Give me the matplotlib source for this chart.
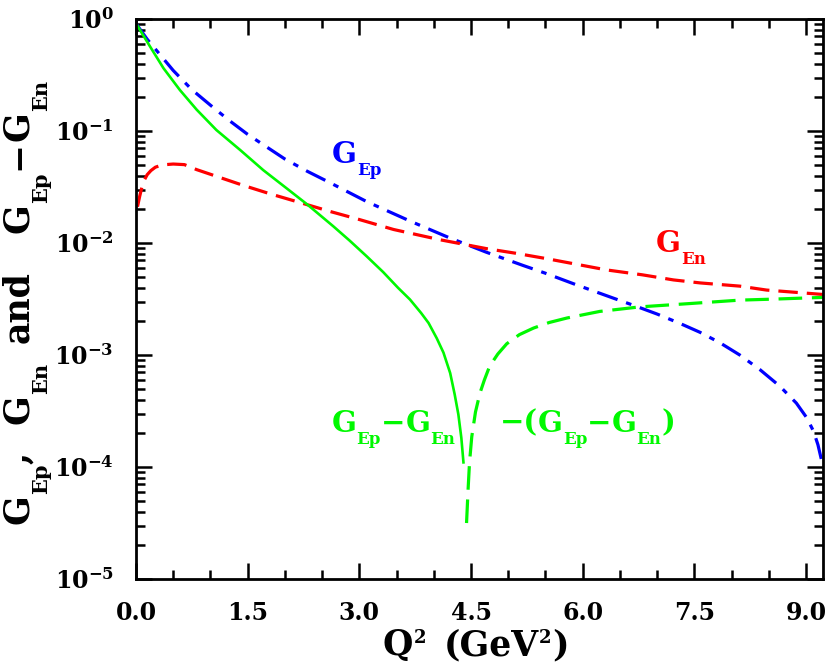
import matplotlib
matplotlib.use('Agg')
import matplotlib.pyplot as plt
from matplotlib.ticker import MultipleLocator, LogLocator, FuncFormatter, NullFormatter, FormatStrFormatter
import numpy as np

W, H, DPI = 825, 671, 100

# ---------------- data ----------------
q2_gep = [0.01, 0.15, 0.30, 0.50, 0.75, 1.00, 1.25, 1.50, 1.75, 2.00, 2.30, 2.60, 3.10,
          3.70, 4.20, 4.70, 5.20, 5.50, 5.90, 6.40, 6.72, 7.00, 7.31, 7.58, 7.84, 8.11,
          8.38, 8.65, 8.87, 9.01, 9.10, 9.16, 9.23]
gep = [0.89, 0.66, 0.501, 0.347, 0.234, 0.170, 0.1245, 0.0933, 0.0724, 0.0562, 0.0437,
       0.0347, 0.0234, 0.0155, 0.0112, 0.0083, 0.0063, 0.00537, 0.00427, 0.00324,
       0.00272, 0.00232, 0.00191, 0.00159, 0.00129, 0.00100, 0.000741, 0.000525,
       0.000372, 0.000275, 0.000209, 0.000158, 0.000100]

q2_gen = [0.02, 0.05, 0.08, 0.11, 0.15, 0.20, 0.26, 0.35, 0.50, 0.65, 0.815, 1.08, 1.44,
          1.80, 2.18, 2.61, 3.00, 3.46, 4.08, 4.71, 5.10, 5.52, 6.32, 6.80, 7.22, 7.58,
          8.11, 8.47, 9.23]
gen = [0.0211, 0.0262, 0.0316, 0.0363, 0.0407, 0.0443, 0.0475, 0.0498, 0.0507, 0.0501,
       0.0452, 0.0394, 0.0327, 0.0275, 0.0232, 0.0191, 0.0162, 0.0132, 0.0107, 0.0089,
       0.0081, 0.00724, 0.00575, 0.0052, 0.00468, 0.0044, 0.00412, 0.0038, 0.00347]

q2_diff_pos = [0.01, 0.19, 0.37, 0.59, 0.815, 1.08, 1.40, 1.71, 2.02, 2.30, 2.65, 2.87,
               3.10, 3.32, 3.52, 3.68, 3.83, 3.93, 4.04, 4.13, 4.22, 4.28, 4.33, 4.37,
               4.40]
diff_pos = [0.89, 0.566, 0.363, 0.232, 0.155, 0.102, 0.0676, 0.0447, 0.0309, 0.0221,
            0.0141, 0.0105, 0.00759, 0.0055, 0.00398, 0.00313, 0.00237, 0.00193, 0.00141,
            0.00105, 0.00069, 0.000447, 0.000295, 0.000182, 0.000107]

q2_diff_neg = [4.44, 4.46, 4.48, 4.51, 4.56, 4.62, 4.68, 4.75, 4.86, 4.98, 5.15, 5.34,
               5.55, 5.79, 6.23, 6.77, 7.44, 8.11, 8.60, 9.23]
diff_neg = [3.16e-5, 6.17e-5, 1.1e-4, 1.86e-4, 3.1e-4, 4.57e-4, 6.0e-4, 7.94e-4,
            1.02e-3, 1.26e-3, 1.52e-3, 1.74e-3, 1.95e-3, 2.14e-3, 2.45e-3, 2.69e-3,
            2.88e-3, 3.09e-3, 3.16e-3, 3.27e-3]

x_major = [0.0, 1.5, 3.0, 4.5, 6.0, 7.5, 9.0]

# ---------------- style ----------------
FONT = 'DejaVu Serif'
plt.rcParams['font.family'] = FONT
plt.rcParams['font.weight'] = 'bold'
plt.rcParams['mathtext.fontset'] = 'custom'
plt.rcParams['mathtext.rm'] = FONT + ':bold'
plt.rcParams['mathtext.it'] = FONT + ':bold'
plt.rcParams['mathtext.bf'] = FONT + ':bold'
plt.rcParams['lines.scale_dashes'] = False

BLUE = '#0000ff'
RED = '#ff0000'
GREEN = '#00f800'

fig = plt.figure(figsize=(W / DPI, H / DPI), dpi=DPI)
L, R, T, B = 136, 823, 19, 579
ax = fig.add_axes([L / W, 1 - B / H, (R - L) / W, (B - T) / H])

ax.plot(q2_gep, gep, color=BLUE, lw=2.3, dashes=(15.5, 6.5, 4, 6.5))
ax.plot(q2_gen, gen, color=RED, lw=2.3, dashes=(14, 6.5))
ax.plot(q2_diff_pos, diff_pos, color=GREEN, lw=1.9, solid_capstyle='butt',
        solid_joinstyle='round')
ax.plot(q2_diff_neg, diff_neg, color=GREEN, lw=2.3, dashes=(17, 7))

ax.set_yscale('log')
ax.set_xlim(0, 9.228)
ax.set_ylim(1e-5, 1)

ax.xaxis.set_major_locator(plt.FixedLocator(x_major))
ax.xaxis.set_minor_locator(MultipleLocator(0.5))
ax.xaxis.set_major_formatter(FormatStrFormatter('%.1f'))
ax.yaxis.set_major_locator(LogLocator(base=10, numticks=20))
ax.yaxis.set_minor_locator(LogLocator(base=10, subs=np.arange(2, 10), numticks=20))
ax.yaxis.set_minor_formatter(NullFormatter())
ax.yaxis.set_major_formatter(FuncFormatter(
    lambda v, p: r'$\mathbf{10^{%d}}$' % int(round(np.log10(v)))))

ax.tick_params(which='both', direction='in', top=True, right=True, width=1.8, colors='black')
ax.tick_params(which='major', length=11.5)
ax.tick_params(which='minor', length=6.5)
ax.tick_params(axis='x', which='major', labelsize=17, pad=16)
ax.tick_params(axis='y', which='major', labelsize=17, pad=16)
for sp in ax.spines.values():
    sp.set_linewidth(2.0)

# ---------------- rich text helper (main text + sub/superscripts) ----------------
renderer = fig.canvas.get_renderer()


def rich(x_disp, y_disp, parts, color='black', rotation=0):
    pos = 0.0
    for text, size, shift, gap in parts:
        pos += gap
        if rotation == 0:
            px, py = x_disp + pos, y_disp + shift * DPI / 72
        else:
            px, py = x_disp - shift * DPI / 72, y_disp + pos
        t = fig.text(px / W, py / H, text, fontsize=size, color=color, ha='left',
                     va='baseline', rotation=rotation, rotation_mode='anchor',
                     fontweight='bold', family=FONT)
        bb = t.get_window_extent(renderer)
        pos += bb.width if rotation == 0 else bb.height


def data_disp(x, y):
    return ax.transData.transform((x, y))


MS, SS, SH = 21, 12, -8.5
x0, y0 = data_disp(2.633, 10 ** -1.286)
rich(x0, y0, [('G', MS, 0, 0), ('Ep', SS, SH, 0)], BLUE)
x0, y0 = data_disp(6.985, 10 ** -2.078)
rich(x0, y0, [('G', MS, 0, 0), ('En', SS, SH, 0)], RED)
x0, y0 = data_disp(2.629, 10 ** -3.685)
rich(x0, y0, [('G', MS, 0, 0), ('Ep', SS, SH, 0), ('\u2212', MS, 0, 0),
              ('G', MS, 0, 0), ('En', SS, SH, 0)], GREEN)
x0, y0 = data_disp(4.889, 10 ** -3.685)
rich(x0, y0, [('\u2212(', MS, 0, 0), ('G', MS, 0, 0), ('Ep', SS, SH, 0),
              ('\u2212', MS, 0, 0), ('G', MS, 0, 0), ('En', SS, SH, 0),
              (')', MS, 0, 0)], GREEN)

# x label: Q^2 (GeV^2)
rich(382, H - 655, [('Q', 25, 0, 0), ('2', 13, 8.6, 1), ('(GeV', 25, 0, 18),
                    ('2', 13, 8.6, 0), (')', 25, 0, 1)])

# y label (rotated): G_Ep,  G_En  and  G_Ep -G_En
YMS, YSS, YSH = 25, 15, -13.5
bx = 28
rich(bx, H - 524, [('G', YMS, 0, 0), ('Ep', YSS, YSH, 0), (',', YMS, 0, 0)], rotation=90)
rich(bx, H - 424, [('G', YMS, 0, 0), ('En', YSS, YSH, 0)], rotation=90)
rich(bx, H - 343, [('and', YMS, 0, 0)], rotation=90)
rich(bx, H - 233, [('G', YMS, 0, 0), ('Ep', YSS, YSH, 0), ('\u2212', YMS, 0, 3),
                   ('G', YMS, 0, 0), ('En', YSS, YSH, 0)], rotation=90)

fig.savefig('out.png', dpi=DPI)
